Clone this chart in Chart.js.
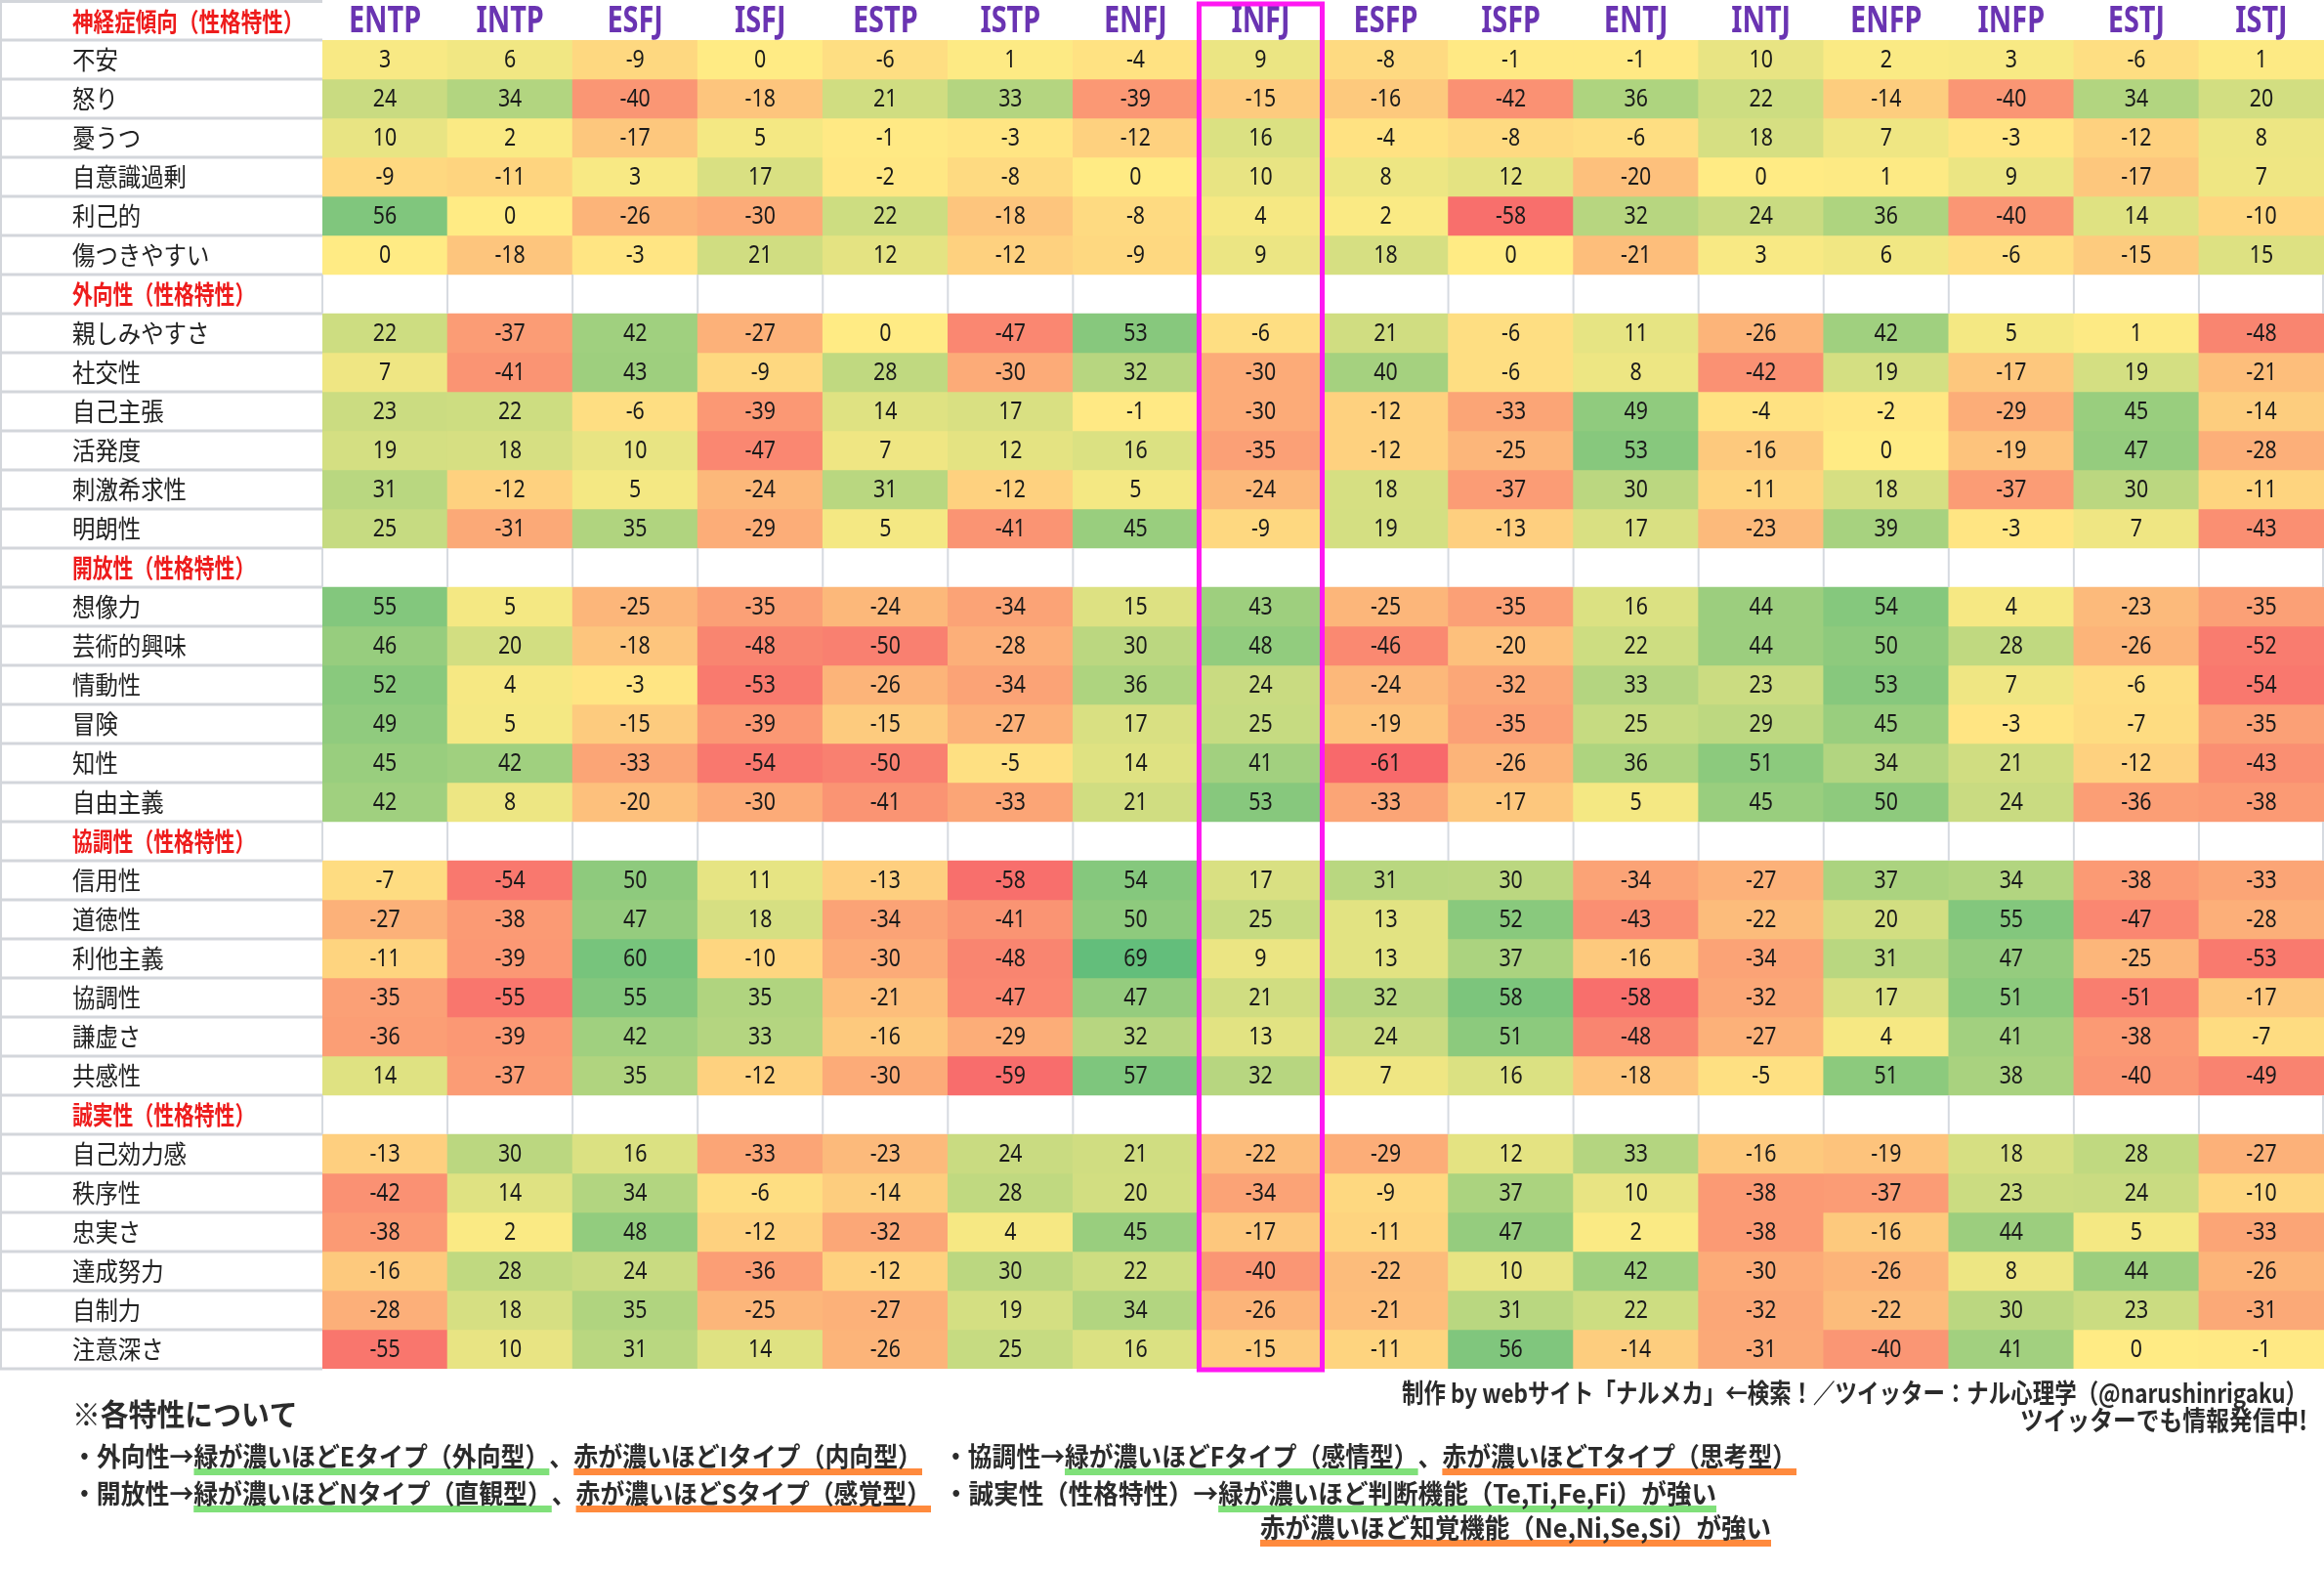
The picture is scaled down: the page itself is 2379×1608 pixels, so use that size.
<!DOCTYPE html>
<html lang="ja">
<head>
<meta charset="utf-8">
<title>MBTIタイプ別 性格特性</title>
<script src="https://cdn.jsdelivr.net/npm/chart.js@4.4.1/dist/chart.umd.min.js"></script>
<style>
  html, body { margin: 0; padding: 0; background: #fff; }
  #wrap { width: 2379px; height: 1608px; }
</style>
</head>
<body>
<div id="wrap"><canvas id="heat" width="2379" height="1608"></canvas></div>
<script>
// TYPES (columns)
const types = ["ENTP","INTP","ESFJ","ISFJ","ESTP","ISTP","ENFJ","INFJ","ESFP","ISFP","ENTJ","INTJ","ENFP","INFP","ESTJ","ISTJ"];
const highlightType = "INFJ";

// 神経症傾向
const neuroTitle = "神経症傾向（性格特性）";
const neuroTraits = ["不安","怒り","憂うつ","自意識過剰","利己的","傷つきやすい"];
const neuroValues = [
  [3, 6, -9, 0, -6, 1, -4, 9, -8, -1, -1, 10, 2, 3, -6, 1],
  [24, 34, -40, -18, 21, 33, -39, -15, -16, -42, 36, 22, -14, -40, 34, 20],
  [10, 2, -17, 5, -1, -3, -12, 16, -4, -8, -6, 18, 7, -3, -12, 8],
  [-9, -11, 3, 17, -2, -8, 0, 10, 8, 12, -20, 0, 1, 9, -17, 7],
  [56, 0, -26, -30, 22, -18, -8, 4, 2, -58, 32, 24, 36, -40, 14, -10],
  [0, -18, -3, 21, 12, -12, -9, 9, 18, 0, -21, 3, 6, -6, -15, 15]
];

// 外向性
const extraTitle = "外向性（性格特性）";
const extraTraits = ["親しみやすさ","社交性","自己主張","活発度","刺激希求性","明朗性"];
const extraValues = [
  [22, -37, 42, -27, 0, -47, 53, -6, 21, -6, 11, -26, 42, 5, 1, -48],
  [7, -41, 43, -9, 28, -30, 32, -30, 40, -6, 8, -42, 19, -17, 19, -21],
  [23, 22, -6, -39, 14, 17, -1, -30, -12, -33, 49, -4, -2, -29, 45, -14],
  [19, 18, 10, -47, 7, 12, 16, -35, -12, -25, 53, -16, 0, -19, 47, -28],
  [31, -12, 5, -24, 31, -12, 5, -24, 18, -37, 30, -11, 18, -37, 30, -11],
  [25, -31, 35, -29, 5, -41, 45, -9, 19, -13, 17, -23, 39, -3, 7, -43]
];

// 開放性
const openTitle = "開放性（性格特性）";
const openTraits = ["想像力","芸術的興味","情動性","冒険","知性","自由主義"];
const openValues = [
  [55, 5, -25, -35, -24, -34, 15, 43, -25, -35, 16, 44, 54, 4, -23, -35],
  [46, 20, -18, -48, -50, -28, 30, 48, -46, -20, 22, 44, 50, 28, -26, -52],
  [52, 4, -3, -53, -26, -34, 36, 24, -24, -32, 33, 23, 53, 7, -6, -54],
  [49, 5, -15, -39, -15, -27, 17, 25, -19, -35, 25, 29, 45, -3, -7, -35],
  [45, 42, -33, -54, -50, -5, 14, 41, -61, -26, 36, 51, 34, 21, -12, -43],
  [42, 8, -20, -30, -41, -33, 21, 53, -33, -17, 5, 45, 50, 24, -36, -38]
];

// 協調性
const agreeTitle = "協調性（性格特性）";
const agreeTraits = ["信用性","道徳性","利他主義","協調性","謙虚さ","共感性"];
const agreeValues = [
  [-7, -54, 50, 11, -13, -58, 54, 17, 31, 30, -34, -27, 37, 34, -38, -33],
  [-27, -38, 47, 18, -34, -41, 50, 25, 13, 52, -43, -22, 20, 55, -47, -28],
  [-11, -39, 60, -10, -30, -48, 69, 9, 13, 37, -16, -34, 31, 47, -25, -53],
  [-35, -55, 55, 35, -21, -47, 47, 21, 32, 58, -58, -32, 17, 51, -51, -17],
  [-36, -39, 42, 33, -16, -29, 32, 13, 24, 51, -48, -27, 4, 41, -38, -7],
  [14, -37, 35, -12, -30, -59, 57, 32, 7, 16, -18, -5, 51, 38, -40, -49]
];

// 誠実性
const conscTitle = "誠実性（性格特性）";
const conscTraits = ["自己効力感","秩序性","忠実さ","達成努力","自制力","注意深さ"];
const conscValues = [
  [-13, 30, 16, -33, -23, 24, 21, -22, -29, 12, 33, -16, -19, 18, 28, -27],
  [-42, 14, 34, -6, -14, 28, 20, -34, -9, 37, 10, -38, -37, 23, 24, -10],
  [-38, 2, 48, -12, -32, 4, 45, -17, -11, 47, 2, -38, -16, 44, 5, -33],
  [-16, 28, 24, -36, -12, 30, 22, -40, -22, 10, 42, -30, -26, 8, 44, -26],
  [-28, 18, 35, -25, -27, 19, 34, -26, -21, 31, 22, -32, -22, 30, 23, -31],
  [-55, 10, 31, 14, -26, 25, 16, -15, -11, 56, -14, -31, -40, 41, 0, -1]
];

// NOTES
const notesTitle = "※各特性について";
const creditLines = [
  "制作 by webサイト「ナルメカ」←検索！／ツイッター：ナル心理学（@narushinrigaku）",
  "ツイッターでも情報発信中!"
];

const sections = [
  { title: neuroTitle, traits: neuroTraits, values: neuroValues },
  { title: extraTitle, traits: extraTraits, values: extraValues },
  { title: openTitle, traits: openTraits, values: openValues },
  { title: agreeTitle, traits: agreeTraits, values: agreeValues },
  { title: conscTitle, traits: conscTraits, values: conscValues }
];

// row layout: first section title sits in the header row
let rowIdx = 0;
const rows = [];
const titleRows = [];
sections.forEach((s, si) => {
  if (si > 0) { titleRows.push({ r: rowIdx, title: s.title }); rowIdx++; }
  s.traits.forEach((t, ti) => {
    rows.push({ r: rowIdx, label: t, values: s.values[ti] });
    rowIdx++;
  });
});
const totalRows = rowIdx;

// excel style 3 colour scale
const allValues = sections.flatMap(s => s.values.flat());
const vMin = Math.min(...allValues);
const vMax = Math.max(...allValues);
const RED = [248, 105, 107], YEL = [255, 235, 132], GRN = [99, 190, 123];
function mix(a, b, t) {
  return "rgb(" + a.map((c, i) => Math.round(c + (b[i] - c) * t)).join(",") + ")";
}
function heatColor(v) {
  return v >= 0 ? mix(YEL, GRN, v / vMax) : mix(YEL, RED, v / vMin);
}

const JP = "'Noto Sans CJK JP', 'Noto Sans', sans-serif";
const LAT = "'Noto Sans', 'DejaVu Sans', sans-serif";

function textAt(ctx, str, x, y, font, color, align, sx) {
  ctx.save();
  ctx.font = font;
  ctx.fillStyle = color;
  ctx.textAlign = align || "left";
  ctx.textBaseline = "middle";
  ctx.translate(x, y);
  ctx.scale(sx || 1, 1);
  ctx.fillText(str, 0, 0);
  ctx.restore();
}

// draws a line of parts squeezed to a given width, with optional underline per part
function fitLine(ctx, parts, x, y, width, font) {
  ctx.save();
  ctx.font = font;
  const widths = parts.map(p => ctx.measureText(p.t).width);
  const total = widths.reduce((a, b) => a + b, 0);
  const sx = width / total;
  let cx = x;
  parts.forEach((p, i) => {
    const w = widths[i] * sx;
    if (p.u) {
      ctx.fillStyle = p.u;
      ctx.fillRect(cx, y + 12, w, 7);
    }
    cx += w;
  });
  cx = x;
  parts.forEach((p, i) => {
    textAt(ctx, p.t, cx, y, font, "#2b2b2b", "left", sx);
    cx += widths[i] * sx;
  });
  ctx.restore();
}

const tablePlugin = {
  id: "tableDecor",
  afterDatasetsDraw(chart) {
    const ctx = chart.ctx;
    const xs = chart.scales.x, ys = chart.scales.y;
    const area = chart.chartArea;
    const colW = xs.getPixelForValue(1) - xs.getPixelForValue(0);

    // cell values
    rows.forEach(row => {
      const yc = ys.getPixelForValue(row.r + 0.5);
      row.values.forEach((v, i) => {
        textAt(ctx, String(v), xs.getPixelForValue(i), yc + 1, "26px " + LAT, "#1a1a1a", "center", 0.82);
      });
    });

    // section title rows: vertical separators in the data area
    ctx.save();
    ctx.strokeStyle = "#d6dae0";
    ctx.lineWidth = 2;
    titleRows.forEach(tr => {
      const y0 = ys.getPixelForValue(tr.r), y1 = ys.getPixelForValue(tr.r + 1);
      for (let i = 0; i <= types.length; i++) {
        const x = Math.min(area.left + i * colW, area.right - 1);
        ctx.beginPath();
        ctx.moveTo(x, y0);
        ctx.lineTo(x, y1);
        ctx.stroke();
      }
    });
    ctx.restore();

    // label column grid
    ctx.save();
    ctx.strokeStyle = "#d3d6db";
    ctx.lineWidth = 3;
    for (let k = 0; k <= totalRows; k++) {
      const y = ys.getPixelForValue(k);
      ctx.beginPath();
      ctx.moveTo(0, y);
      ctx.lineTo(area.left, y);
      ctx.stroke();
    }
    ctx.beginPath();
    ctx.moveTo(0, 1.5);
    ctx.lineTo(area.left, 1.5);
    ctx.stroke();
    ctx.lineWidth = 2;
    ctx.beginPath();
    ctx.moveTo(1, 0);
    ctx.lineTo(1, ys.getPixelForValue(totalRows));
    ctx.stroke();
    ctx.restore();

    // row labels
    const labelX = 74;
    rows.forEach(row => {
      textAt(ctx, row.label, labelX, ys.getPixelForValue(row.r + 0.5), "26px " + JP, "#222", "left", 0.9);
    });
    titleRows.forEach(tr => {
      textAt(ctx, tr.title, labelX, ys.getPixelForValue(tr.r + 0.5), "bold 26px " + JP, "#ee1c1c", "left", 0.8);
    });
    const headY = area.top / 2 + 2;
    textAt(ctx, sections[0].title, labelX, headY, "bold 26px " + JP, "#ee1c1c", "left", 0.83);

    // type header
    types.forEach((t, i) => {
      textAt(ctx, t, xs.getPixelForValue(i), headY, "bold 37px " + LAT, "#6a34b2", "center", 0.78);
    });

    // highlighted column
    const hi = types.indexOf(highlightType);
    ctx.save();
    ctx.strokeStyle = "#ff18f2";
    ctx.lineWidth = 5;
    const hx0 = xs.getPixelForValue(hi) - colW / 2 + 1;
    const hx1 = xs.getPixelForValue(hi) + colW / 2 - 1;
    ctx.strokeRect(hx0, 4, hx1 - hx0, ys.getPixelForValue(totalRows) - 3);
    ctx.restore();
  },
  afterDraw(chart) {
    const ctx = chart.ctx;
    const F = "bold 27px " + JP;
    const green = "#80e07a", orange = "#ff8a3d";

    textAt(ctx, notesTitle, 74, 1447, "bold 31px " + JP, "#2b2b2b", "left", 0.93);

    // credits, right aligned
    ctx.save();
    ctx.font = F;
    const c0 = ctx.measureText(creditLines[0]).width;
    const c1 = ctx.measureText(creditLines[1]).width;
    ctx.restore();
    textAt(ctx, creditLines[0], 2362, 1426, F, "#2b2b2b", "right", 927 / c0);
    textAt(ctx, creditLines[1], 2362, 1454, F, "#2b2b2b", "right", 294 / c1);

    fitLine(ctx, [
      { t: "・外向性→" },
      { t: "緑が濃いほどEタイプ（外向型）", u: green },
      { t: "、" },
      { t: "赤が濃いほどIタイプ（内向型）", u: orange }
    ], 74, 1491, 870, F);
    fitLine(ctx, [
      { t: "・協調性→" },
      { t: "緑が濃いほどFタイプ（感情型）", u: green },
      { t: "、" },
      { t: "赤が濃いほどTタイプ（思考型）", u: orange }
    ], 966, 1491, 873, F);
    fitLine(ctx, [
      { t: "・開放性→" },
      { t: "緑が濃いほどNタイプ（直観型）", u: green },
      { t: "、" },
      { t: "赤が濃いほどSタイプ（感覚型）", u: orange }
    ], 74, 1529, 879, F);
    fitLine(ctx, [
      { t: "・誠実性（性格特性）→" },
      { t: "緑が濃いほど判断機能（Te,Ti,Fe,Fi）が強い", u: green }
    ], 966, 1529, 791, F);
    fitLine(ctx, [
      { t: "赤が濃いほど知覚機能（Ne,Ni,Se,Si）が強い", u: orange }
    ], 1290, 1564, 523, F);
  }
};

new Chart(document.getElementById("heat"), {
  type: "bar",
  data: {
    labels: types,
    datasets: rows.map(row => ({
      label: row.label,
      data: row.values.map(() => [row.r, row.r + 1]),
      backgroundColor: row.values.map(heatColor),
      borderWidth: 0,
      grouped: false,
      barPercentage: 1,
      categoryPercentage: 1
    }))
  },
  options: {
    responsive: false,
    animation: false,
    events: [],
    layout: { padding: { left: 330, top: 41, right: 0, bottom: 207 } },
    plugins: { legend: { display: false }, tooltip: { enabled: false } },
    scales: {
      x: { type: "category", display: false, offset: true },
      y: { type: "linear", display: false, min: 0, max: totalRows, reverse: true }
    }
  },
  plugins: [tablePlugin]
});
</script>
</body>
</html>
